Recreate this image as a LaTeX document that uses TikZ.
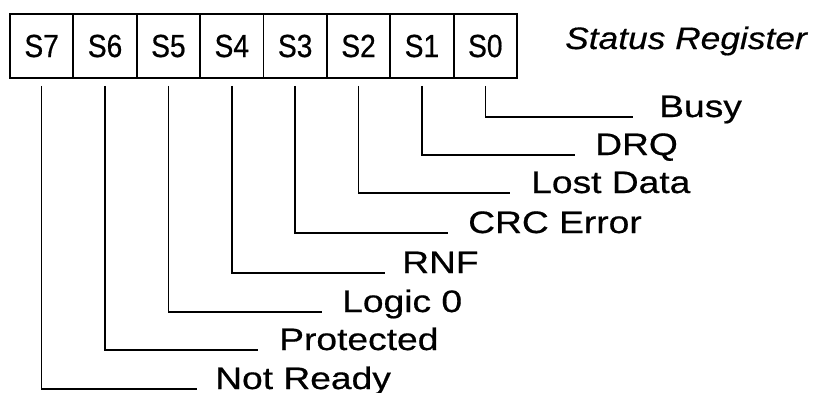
\documentclass[tikz,border=0pt]{standalone}
\usepackage{fontspec}
\setmainfont{Liberation Sans}
\newfontfamily\labfont{Liberation Sans}[FakeStretch=1.2,FakeBold=0.6]
\newfontfamily\titlefont{Liberation Sans}[FakeStretch=1.14,FakeBold=0.4]
\newfontfamily\cellfont{Liberation Sans}[FakeStretch=0.88,FakeBold=0.6]
\begin{document}
\begin{tikzpicture}[x=1pt,y=-1pt,
  cell/.style={draw,line width=1.8pt,minimum width=63.375pt,minimum height=64pt,inner sep=0pt,
    font=\cellfont\fontsize{32}{32}\selectfont},
  lab/.style={anchor=base west,inner sep=0pt,font=\labfont\fontsize{31}{31}\selectfont},
  wire/.style={line width=1.6pt}]
\useasboundingbox (0,0) rectangle (821,392);
\foreach \n/\i in {7/0,6/1,5/2,4/3,3/4,2/5,1/6,0/7}{
  \node[cell] (c\n) at ({10+63.375*(\i+0.5)},46) {S\n};
}
\node[lab,font=\titlefont\itshape\fontsize{31}{31}\selectfont] (title) at (565,49) {Status Register};
\coordinate (e0) at (633,117);
\coordinate (e1) at (575,155);
\coordinate (e2) at (510,193);
\coordinate (e3) at (448,233);
\coordinate (e4) at (385,273);
\coordinate (e5) at (322,312);
\coordinate (e6) at (258,350);
\coordinate (e7) at (197,389);
\foreach \n in {0,...,7}{
  \draw[wire] ([yshift=-7pt]c\n.south) |- (e\n);
}
\node[lab] (l0) at ([xshift=26pt]e0) {Busy};
\node[lab] (l1) at ([xshift=20pt]e1) {DRQ};
\node[lab] (l2) at ([xshift=21pt]e2) {Lost Data};
\node[lab] (l3) at ([xshift=20pt]e3) {CRC Error};
\node[lab] (l4) at ([xshift=17pt]e4) {RNF};
\node[lab] (l5) at ([xshift=20pt]e5) {Logic 0};
\node[lab] (l6) at ([xshift=21pt]e6) {Protected};
\node[lab] (l7) at ([xshift=18pt]e7) {Not Ready};
\end{tikzpicture}
\end{document}
